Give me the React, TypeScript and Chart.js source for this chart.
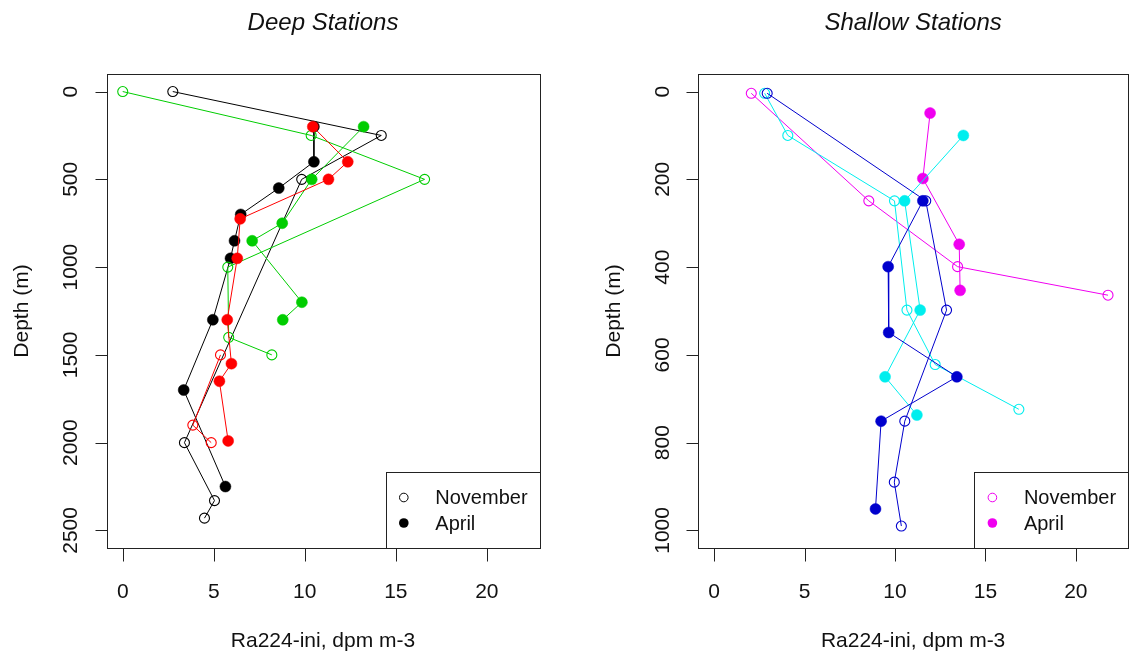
import React, { useEffect, useRef } from 'react';
import { Chart, registerables } from 'chart.js';

Chart.register(...registerables);

const FONT = '"Liberation Sans", Arial, Helvetica, sans-serif';

// ---------- tick labels ----------
const xTickValues = [0, 5, 10, 15, 20];
const deepDepthTicks = [0, 500, 1000, 1500, 2000, 2500];
const shallowDepthTicks = [0, 200, 400, 600, 800, 1000];

// ---------- Deep stations ----------
const deepBlackNovDepth = [0, 250, 500, 2000, 2330, 2430];
const deepBlackNovRa = [2.75, 14.2, 9.83, 3.39, 5.04, 4.49];
const deepBlackAprDepth = [200, 400, 550, 700, 850, 950, 1300, 1700, 2250];
const deepBlackAprRa = [10.5, 10.5, 8.57, 6.48, 6.14, 5.92, 4.95, 3.35, 5.64];
const deepGreenNovDepth = [0, 250, 500, 1000, 1400, 1500];
const deepGreenNovRa = [0, 10.35, 16.58, 5.77, 5.82, 8.19];
const deepGreenAprDepth = [200, 500, 750, 850, 1200, 1300];
const deepGreenAprRa = [13.23, 10.38, 8.76, 7.11, 9.84, 8.79];
const deepRedNovDepth = [1500, 1900, 2000];
const deepRedNovRa = [5.37, 3.85, 4.86];
const deepRedAprDepth = [200, 400, 500, 725, 950, 1300, 1550, 1650, 1990];
const deepRedAprRa = [10.44, 12.36, 11.3, 6.45, 6.29, 5.74, 5.97, 5.31, 5.79];

// ---------- Shallow stations ----------
const shMagNovDepth = [4, 249, 399, 464];
const shMagNovRa = [2.05, 8.55, 13.46, 21.78];
const shMagAprDepth = [49, 198, 348, 453];
const shMagAprRa = [11.94, 11.54, 13.55, 13.6];
const shCyanNovDepth = [4, 100, 249, 498, 622, 724];
const shCyanNovRa = [2.79, 4.07, 9.97, 10.66, 12.22, 16.85];
const shCyanAprDepth = [100, 249, 498, 650, 737];
const shCyanAprRa = [13.78, 10.53, 11.39, 9.45, 11.21];
const shBlueNovDepth = [4, 249, 498, 751, 890, 990];
const shBlueNovRa = [2.93, 11.7, 12.85, 10.54, 9.96, 10.35];
const shBlueAprDepth = [249, 399, 549, 650, 751, 951];
const shBlueAprRa = [11.54, 9.62, 9.65, 13.42, 9.23, 8.92];

const legendLabels = ['November', 'April'];

const BLACK = '#000000';
const GREEN = '#00CD00';
const RED = '#FF0000';
const MAGENTA = '#F000F0';
const CYAN = '#00EEEE';
const BLUE = '#0000CD';

function ds(depths: number[], values: number[], color: string, filled: boolean) {
  return {
    data: depths.map((d, i) => ({ x: values[i], y: d })),
    showLine: true,
    borderColor: color,
    backgroundColor: filled ? color : 'rgba(0,0,0,0)',
    borderWidth: 1,
    pointRadius: filled ? 5.5 : 5,
    pointBackgroundColor: filled ? color : 'rgba(0,0,0,0)',
    pointBorderColor: color,
    pointBorderWidth: filled ? 0.5 : 1.1,
    tension: 0,
    clip: false as any,
  };
}

type PanelProps = {
  left: number;
  padLeft: number;
  padRight: number;
  title: string;
  yMin: number;
  yMax: number;
  yTicks: number[];
  legendColor: string;
  datasets: any[];
};

function Panel(props: PanelProps) {
  const ref = useRef<HTMLCanvasElement | null>(null);
  useEffect(() => {
    if (!ref.current) return;
    const { title, yTicks, legendColor } = props;
    const decor = {
      id: 'rdecor',
      afterDraw(chart: any) {
        const ctx = chart.ctx as CanvasRenderingContext2D;
        const a = chart.chartArea;
        const xs = chart.scales.x;
        const ys = chart.scales.y;
        ctx.save();
        ctx.strokeStyle = '#222';
        ctx.lineWidth = 1;
        // box
        ctx.strokeRect(Math.round(a.left) + 0.5, Math.round(a.top) + 0.5, Math.round(a.right - a.left), Math.round(a.bottom - a.top));
        // x ticks
        ctx.beginPath();
        const xb = Math.round(a.bottom) + 0.5;
        const x0 = Math.round(xs.getPixelForValue(xTickValues[0])) + 0.5;
        const x1 = Math.round(xs.getPixelForValue(xTickValues[xTickValues.length - 1])) + 0.5;
        ctx.moveTo(x0, xb);
        ctx.lineTo(x1, xb);
        xTickValues.forEach((v) => {
          const px = Math.round(xs.getPixelForValue(v)) + 0.5;
          ctx.moveTo(px, xb);
          ctx.lineTo(px, xb + 13);
        });
        // y ticks
        const yl = Math.round(a.left) + 0.5;
        yTicks.forEach((v) => {
          const py = Math.round(ys.getPixelForValue(v)) + 0.5;
          ctx.moveTo(yl, py);
          ctx.lineTo(yl - 12, py);
        });
        ctx.stroke();
        ctx.fillStyle = '#111';
        ctx.font = `21px ${FONT}`;
        ctx.textAlign = 'center';
        ctx.textBaseline = 'alphabetic';
        xTickValues.forEach((v) => {
          ctx.fillText(String(v), xs.getPixelForValue(v), 598);
        });
        yTicks.forEach((v) => {
          ctx.save();
          ctx.translate(a.left - 29.7, ys.getPixelForValue(v));
          ctx.rotate(-Math.PI / 2);
          ctx.fillText(String(v), 0, 0);
          ctx.restore();
        });
        const cx = (a.left + a.right) / 2;
        const cy = (a.top + a.bottom) / 2;
        // axis titles
        ctx.fillText('Ra224-ini, dpm m-3', cx, 647);
        ctx.save();
        ctx.translate(a.left - 78.5, cy);
        ctx.rotate(-Math.PI / 2);
        ctx.fillText('Depth (m)', 0, 0);
        ctx.restore();
        // title
        ctx.font = `italic 24px ${FONT}`;
        ctx.fillText(title, cx, 30);
        // legend
        const lx = a.right - 153.5;
        const ly = 472;
        ctx.fillStyle = '#ffffff';
        ctx.fillRect(Math.round(lx) + 0.5, ly + 0.5, Math.round(a.right - lx), Math.round(a.bottom) - ly);
        ctx.strokeRect(Math.round(lx) + 0.5, ly + 0.5, Math.round(a.right - lx), Math.round(a.bottom) - ly);
        const rows = [497.5, 523];
        legendLabels.forEach((lab, i) => {
          ctx.beginPath();
          ctx.arc(lx + 18, rows[i], i === 0 ? 4.3 : 4.8, 0, Math.PI * 2);
          if (i === 0) {
            ctx.strokeStyle = legendColor;
            ctx.lineWidth = 1;
            ctx.stroke();
          } else {
            ctx.fillStyle = legendColor;
            ctx.fill();
          }
          ctx.fillStyle = '#111';
          ctx.font = `20px ${FONT}`;
          ctx.textAlign = 'left';
          ctx.textBaseline = 'middle';
          ctx.fillText(lab, lx + 49.5, rows[i] + 1);
        });
        ctx.restore();
      },
    };
    const chart = new Chart(ref.current, {
      type: 'scatter',
      data: { datasets: props.datasets },
      options: {
        animation: false,
        responsive: false,
        maintainAspectRatio: false,
        events: [],
        layout: { padding: { left: props.padLeft, right: props.padRight, top: 74, bottom: 109 } },
        plugins: { legend: { display: false }, title: { display: false }, tooltip: { enabled: false } },
        scales: {
          x: { type: 'linear', min: -0.88, max: 22.88, display: false },
          y: { type: 'linear', min: props.yMin, max: props.yMax, reverse: true, display: false },
        },
      } as any,
      plugins: [decor],
    });
    return () => chart.destroy();
  }, []);
  return (
    <canvas
      ref={ref}
      width={567}
      height={657}
      style={{ position: 'absolute', left: props.left, top: 0, width: 567, height: 657 }}
    />
  );
}

export default function App() {
  const deepSets = [
    ds(deepRedAprDepth, deepRedAprRa, RED, true),
    ds(deepRedNovDepth, deepRedNovRa, RED, false),
    ds(deepGreenAprDepth, deepGreenAprRa, GREEN, true),
    ds(deepGreenNovDepth, deepGreenNovRa, GREEN, false),
    ds(deepBlackAprDepth, deepBlackAprRa, BLACK, true),
    ds(deepBlackNovDepth, deepBlackNovRa, BLACK, false),
  ];
  const shallowSets = [
    ds(shBlueAprDepth, shBlueAprRa, BLUE, true),
    ds(shBlueNovDepth, shBlueNovRa, BLUE, false),
    ds(shCyanAprDepth, shCyanAprRa, CYAN, true),
    ds(shCyanNovDepth, shCyanNovRa, CYAN, false),
    ds(shMagAprDepth, shMagAprRa, MAGENTA, true),
    ds(shMagNovDepth, shMagNovRa, MAGENTA, false),
  ];
  return (
    <div style={{ position: 'absolute', left: 0, top: 0, width: 1134, height: 657, background: '#fff', overflow: 'hidden' }}>
      <Panel
        left={0}
        padLeft={106.7}
        padRight={27.7}
        title="Deep Stations"
        yMin={-100}
        yMax={2600}
        yTicks={deepDepthTicks}
        legendColor={BLACK}
        datasets={deepSets}
      />
      <Panel
        left={567}
        padLeft={131.3}
        padRight={3.3}
        title="Shallow Stations"
        yMin={-40}
        yMax={1040}
        yTicks={shallowDepthTicks}
        legendColor={MAGENTA}
        datasets={shallowSets}
      />
    </div>
  );
}
